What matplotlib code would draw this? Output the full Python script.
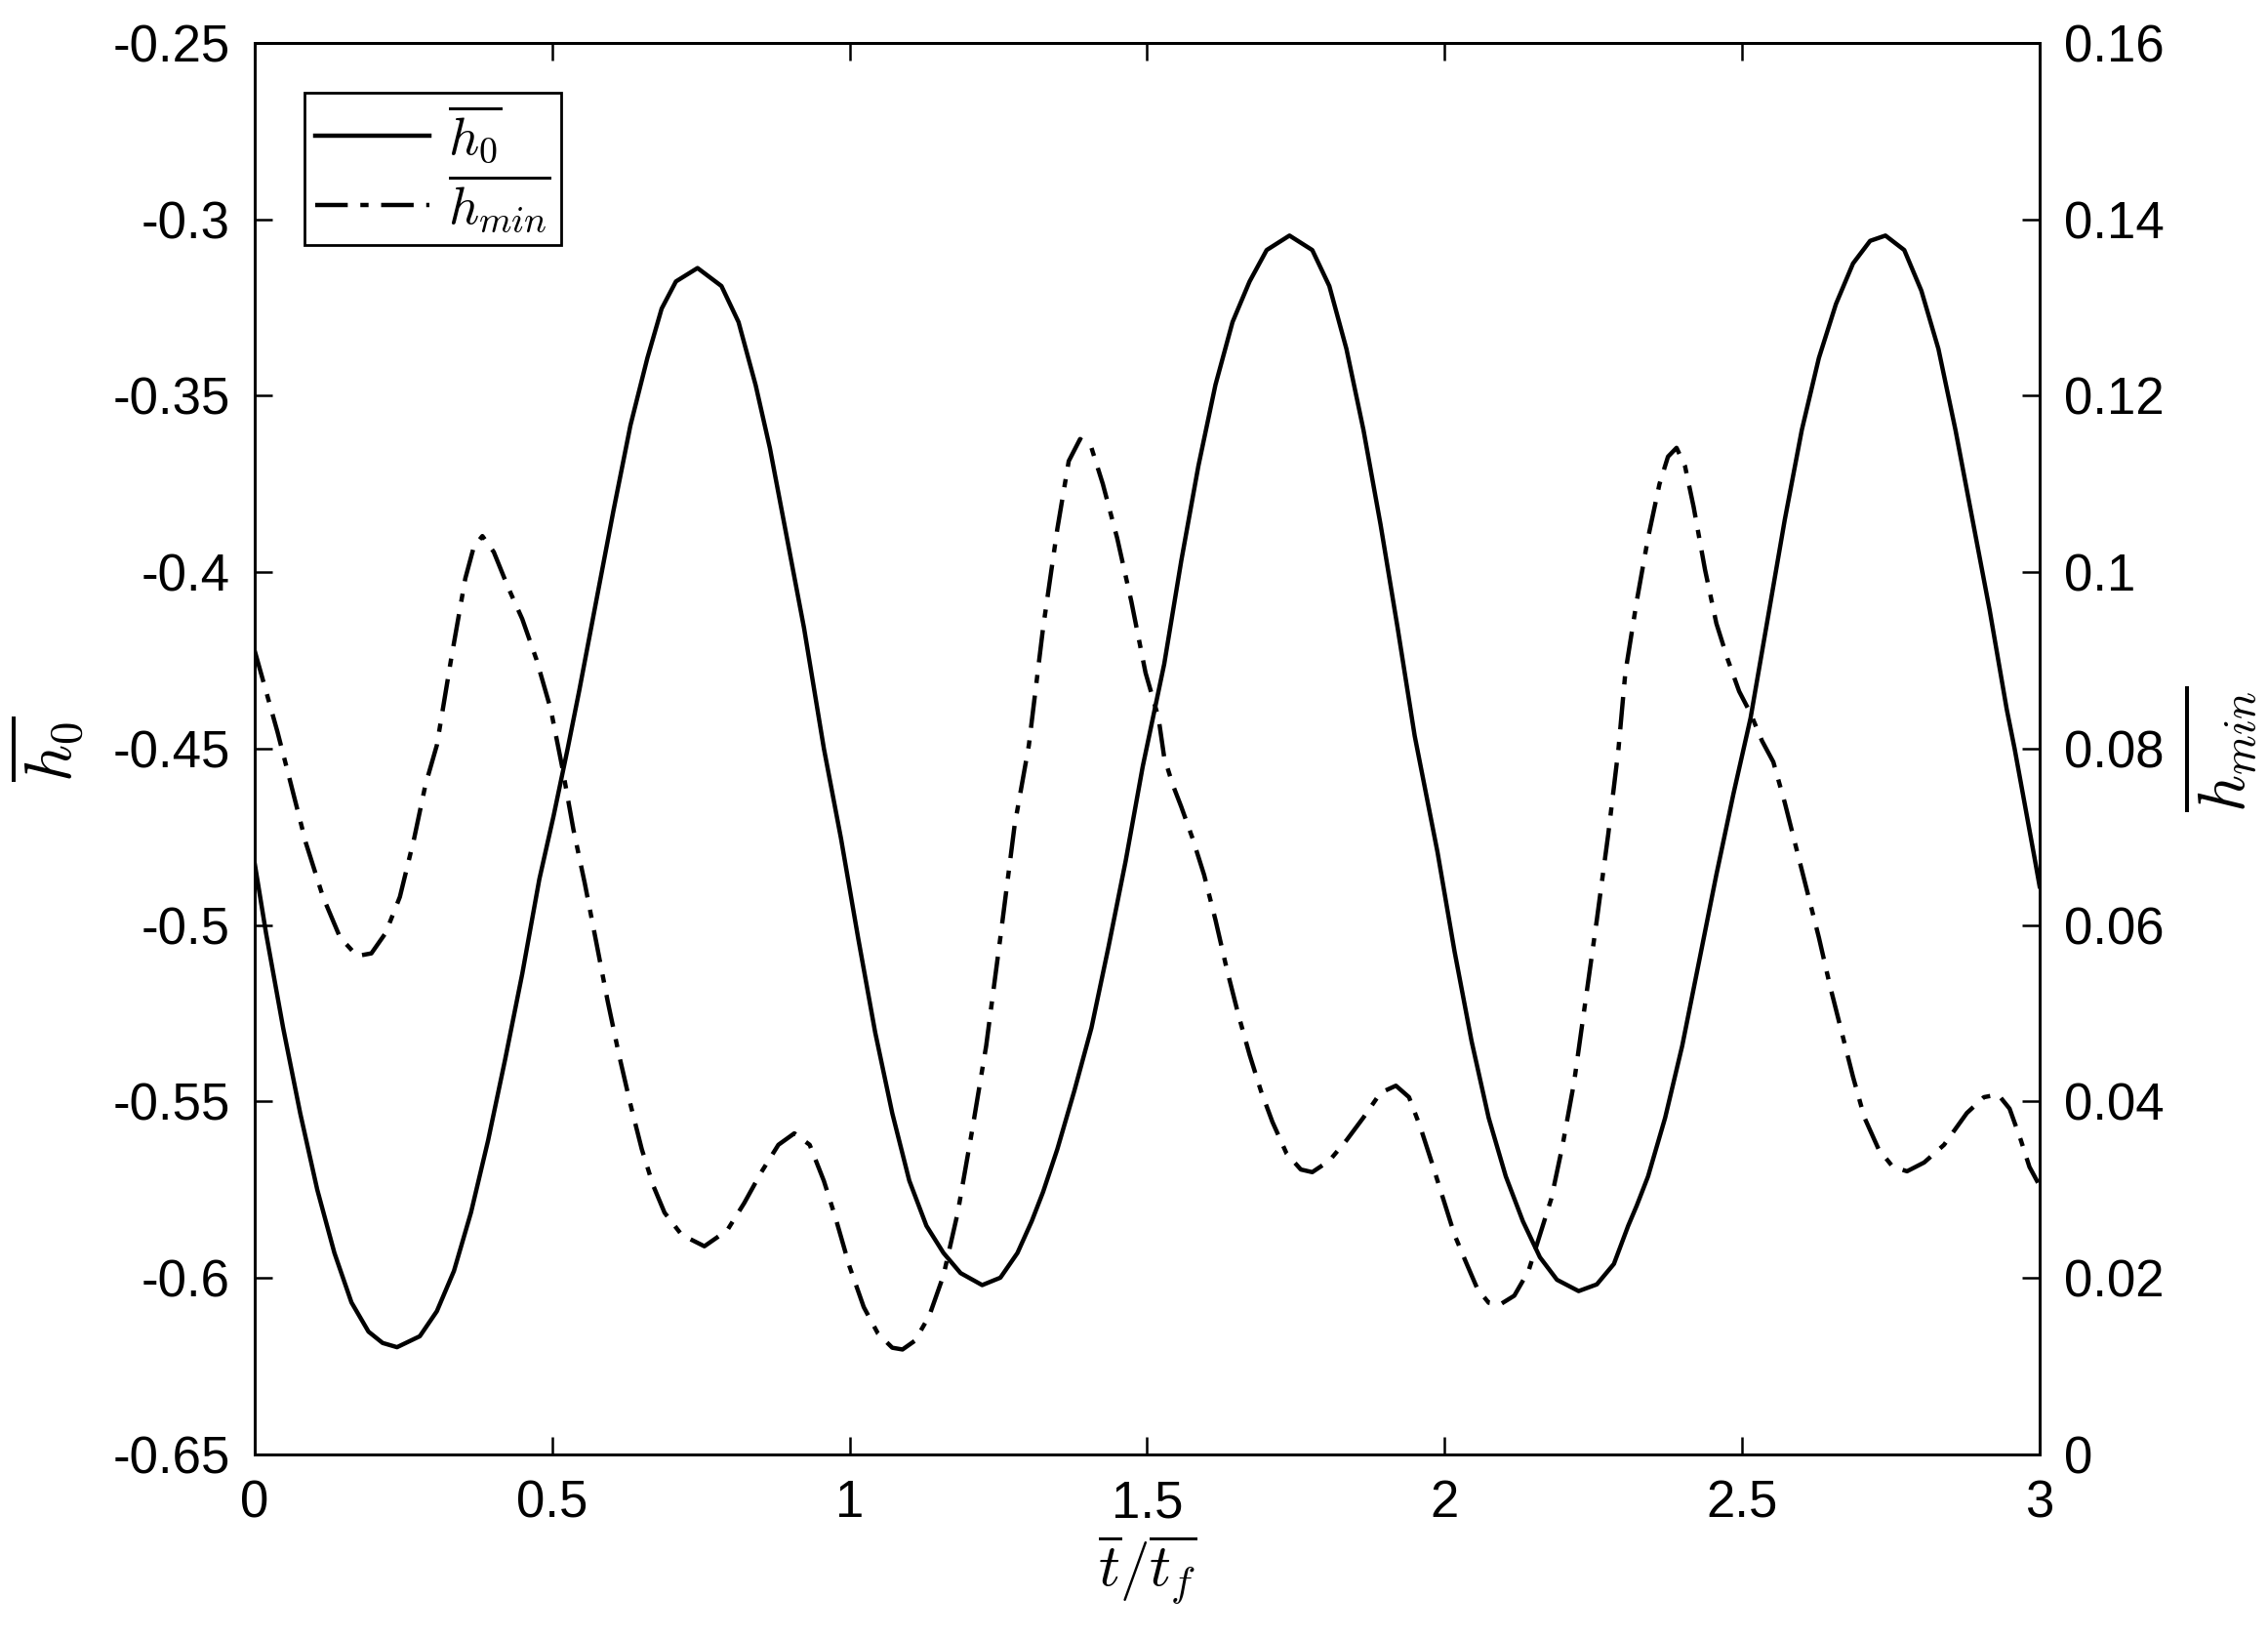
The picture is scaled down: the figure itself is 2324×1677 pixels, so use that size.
import numpy as np
import matplotlib
matplotlib.use('Agg')
import matplotlib.pyplot as plt
from matplotlib.ticker import FormatStrFormatter

plt.rcParams['font.family'] = ['Liberation Sans', 'DejaVu Sans']
plt.rcParams['mathtext.fontset'] = 'cm'

# h0 curve (left axis)
t_h0 = [0.000, 0.0191, 0.0478, 0.0765, 0.1052, 0.134, 0.1626, 0.1913, 0.215, 0.2392,
        0.2775, 0.3062, 0.3349, 0.3636, 0.3923, 0.421, 0.4497, 0.4784, 0.5023, 0.526,
        0.5453, 0.574, 0.6028, 0.6315, 0.660, 0.684, 0.708, 0.7443, 0.7845, 0.8132,
        0.842, 0.8659, 0.8946, 0.9233, 0.9567, 0.9855, 1.0142, 1.0429, 1.0716, 1.1002,
        1.129, 1.1577, 1.1864, 1.2227, 1.2533, 1.282, 1.306, 1.3251, 1.349, 1.3777,
        1.4064, 1.4351, 1.4638, 1.4925, 1.5287, 1.5574, 1.5861, 1.6148, 1.6435, 1.6722,
        1.7009, 1.7392, 1.7775, 1.8062, 1.8349, 1.8636, 1.8923, 1.921, 1.9497, 1.988,
        2.0166, 2.0453, 2.074, 2.1028, 2.1315, 2.1601, 2.1888, 2.2252, 2.2558, 2.2845,
        2.3085, 2.3228, 2.3419, 2.3706, 2.3993, 2.428, 2.4567, 2.4854, 2.5142, 2.5429,
        2.5716, 2.6003, 2.629, 2.6577, 2.6864, 2.7151, 2.7409, 2.7725, 2.8012, 2.8299,
        2.8586, 2.8873, 2.916, 2.9447, 2.958, 2.9925, 3.000]
h0 = [-0.4825, -0.5023, -0.5291, -0.5533, -0.575, -0.5929, -0.6069, -0.6152, -0.6184, -0.6196,
      -0.6165, -0.6094, -0.598, -0.5814, -0.561, -0.538, -0.5138, -0.487, -0.4691, -0.45,
      -0.4337, -0.4082, -0.3827, -0.3584, -0.3393, -0.3253, -0.3176, -0.3138, -0.3189, -0.3291,
      -0.347, -0.3648, -0.3903, -0.4158, -0.45, -0.4755, -0.5036, -0.5304, -0.5533, -0.5724,
      -0.5852, -0.5929, -0.5986, -0.602, -0.5999, -0.5929, -0.5839, -0.5756, -0.5635, -0.5469,
      -0.5291, -0.5061, -0.4819, -0.4551, -0.426, -0.3967, -0.3699, -0.3469, -0.3291, -0.3176,
      -0.3087, -0.3046, -0.3087, -0.3189, -0.3367, -0.3597, -0.3865, -0.4158, -0.4464, -0.4793,
      -0.5074, -0.5329, -0.5546, -0.5712, -0.5839, -0.5941, -0.6005, -0.6037, -0.6018, -0.596,
      -0.5852, -0.5795, -0.5712, -0.5546, -0.5342, -0.51, -0.4857, -0.4628, -0.4413, -0.4133,
      -0.3852, -0.3597, -0.3393, -0.324, -0.3125, -0.3061, -0.3046, -0.3087, -0.3202, -0.3367,
      -0.3597, -0.3852, -0.4107, -0.4388, -0.45, -0.4819, -0.489]

# h_min curve (right axis)
t_hmin = [0.000, 0.0383, 0.0574, 0.0861, 0.1148, 0.1435, 0.1722, 0.1961, 0.220, 0.244,
          0.2679, 0.287, 0.3062, 0.330, 0.354, 0.3684, 0.3827, 0.4018, 0.4258, 0.4497,
          0.4736, 0.4975, 0.5166, 0.5358, 0.5549, 0.574, 0.5932, 0.6123, 0.6315, 0.6506,
          0.6697, 0.6889, 0.7176, 0.7558, 0.7941, 0.8228, 0.8515, 0.8802, 0.907, 0.9328,
          0.9567, 0.9759, 0.9998, 1.0237, 1.0476, 1.0716, 1.0888, 1.1098, 1.1337, 1.1577,
          1.1816, 1.2055, 1.2294, 1.2533, 1.2772, 1.3012, 1.3251, 1.349, 1.3682, 1.3873,
          1.4064, 1.4255, 1.4495, 1.4734, 1.4973, 1.5191, 1.5287, 1.5431, 1.5574, 1.5765,
          1.5957, 1.6148, 1.6339, 1.6531, 1.6722, 1.6913, 1.7105, 1.7344, 1.7583, 1.7775,
          1.8062, 1.8349, 1.8636, 1.8923, 1.9181, 1.9401, 1.9592, 1.9784, 1.9975, 2.0166,
          2.0358, 2.0549, 2.074, 2.0932, 2.1171, 2.141, 2.1601, 2.1793, 2.1984, 2.2176,
          2.2367, 2.2558, 2.275, 2.2922, 2.3037, 2.3228, 2.3419, 2.3611, 2.3754, 2.3898,
          2.4041, 2.4185, 2.4376, 2.4567, 2.4759, 2.495, 2.5142, 2.5333, 2.5524, 2.5716,
          2.5907, 2.6098, 2.629, 2.6481, 2.6672, 2.6864, 2.7055, 2.7294, 2.7533, 2.7772,
          2.806, 2.8394, 2.8777, 2.9064, 2.9303, 2.9495, 2.9686, 2.9829, 2.9973]
hmin = [0.0911, 0.0819, 0.0769, 0.0693, 0.0632, 0.0586, 0.0565, 0.0568, 0.0591, 0.0632,
        0.0698, 0.0759, 0.0804, 0.0901, 0.0993, 0.1029, 0.1041, 0.1023, 0.0983, 0.0947,
        0.0901, 0.0845, 0.078, 0.0708, 0.0647, 0.0581, 0.0514, 0.0453, 0.0397, 0.0346,
        0.0305, 0.0274, 0.0249, 0.0236, 0.0254, 0.0285, 0.032, 0.0351, 0.0364, 0.0351,
        0.031, 0.0269, 0.0213, 0.0167, 0.0137, 0.0121, 0.0119, 0.0129, 0.0157, 0.0203,
        0.0274, 0.0366, 0.0463, 0.0586, 0.0713, 0.0804, 0.0937, 0.1049, 0.1126, 0.1151,
        0.1141, 0.11, 0.1039, 0.0967, 0.0886, 0.0835, 0.079, 0.0759, 0.0734, 0.0698,
        0.0657, 0.0606, 0.055, 0.0499, 0.0453, 0.0412, 0.0377, 0.0341, 0.0323, 0.032,
        0.0333, 0.0356, 0.0382, 0.041, 0.0418, 0.0405, 0.0371, 0.0331, 0.029, 0.0249,
        0.0218, 0.0188, 0.0172, 0.017, 0.018, 0.0208, 0.0249, 0.029, 0.0351, 0.0422,
        0.0514, 0.0606, 0.0703, 0.08, 0.0886, 0.0967, 0.1039, 0.11, 0.1131, 0.1141,
        0.112, 0.1074, 0.1003, 0.0942, 0.0901, 0.0865, 0.084, 0.0809, 0.0785, 0.0739,
        0.0688, 0.0637, 0.0586, 0.053, 0.0479, 0.0428, 0.0382, 0.0346, 0.0326, 0.0321,
        0.0331, 0.0351, 0.0387, 0.0405, 0.0408, 0.0392, 0.0356, 0.0326, 0.0308]

xticks = [0, 0.5, 1, 1.5, 2, 2.5, 3]
left_ticks = [-0.65, -0.6, -0.55, -0.5, -0.45, -0.4, -0.35, -0.3, -0.25]
right_ticks = [0, 0.02, 0.04, 0.06, 0.08, 0.1, 0.12, 0.14, 0.16]

fig = plt.figure(figsize=(11.62, 8.385), dpi=200)
ax = fig.add_axes([0.1123, 0.1115, 0.787, 0.8623])
ax2 = ax.twinx()

l1, = ax.plot(t_h0, h0, color='black', lw=1.6, linestyle='-')
l2, = ax2.plot(t_hmin, hmin, color='black', lw=1.6, linestyle=(0, (7.5, 2.9, 1.9, 2.9)))

ax.set_xlim(0, 3)
ax.set_ylim(-0.65, -0.25)
ax2.set_ylim(0, 0.16)
ax.set_xticks(xticks)
ax.set_yticks(left_ticks)
ax2.set_yticks(right_ticks)
ax.xaxis.set_major_formatter(FormatStrFormatter('%g'))
ax.yaxis.set_major_formatter(FormatStrFormatter('%g'))
ax2.yaxis.set_major_formatter(FormatStrFormatter('%g'))

ax.tick_params(axis='x', direction='in', top=True, length=6.5, width=0.9,
               labelsize=19, pad=9)
ax.tick_params(axis='y', direction='in', left=True, right=False, length=6.5,
               width=0.9, labelsize=19, pad=9)
ax2.tick_params(axis='y', direction='in', right=True, length=6.5, width=0.9,
                labelsize=19, pad=9)
for a in (ax, ax2):
    for s in a.spines.values():
        s.set_linewidth(1.0)

ax.set_xlabel(r'$\overline{t}/\overline{t_f}$', fontsize=22, labelpad=2)
ax.set_ylabel(r'$\overline{h_0}$', fontsize=24, labelpad=10)
ax2.set_ylabel(r'$\overline{h_{min}}$', fontsize=24, labelpad=6)

leg = ax2.legend([l1, l2], [r'$\overline{h_0}$', r'$\overline{h_{min}}$'],
                 loc='upper left', fontsize=19.5, handlelength=2.15,
                 borderaxespad=0.95, fancybox=False, framealpha=1,
                 edgecolor='black', borderpad=0.2, labelspacing=0.12,
                 handletextpad=0.35)
leg.get_frame().set_linewidth(1.0)

fig.savefig('out.png', dpi=200)
